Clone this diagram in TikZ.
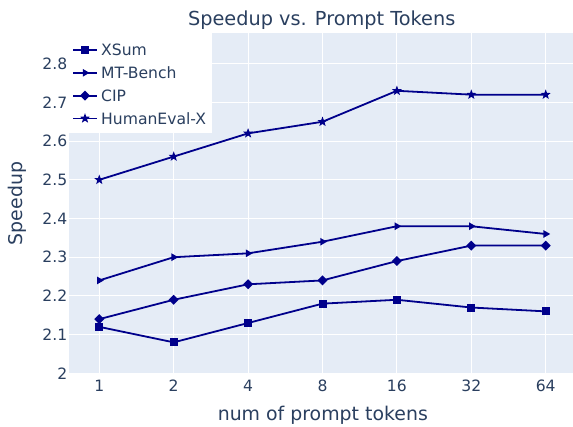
\documentclass[tikz,border=0pt]{standalone}
\usepackage{fontspec}
\setmainfont{DejaVu Sans}
\usetikzlibrary{shapes.geometric}
\definecolor{plotbg}{HTML}{E5ECF6}
\definecolor{txt}{HTML}{2A3F5F}
\definecolor{ser}{HTML}{00008B}
\begin{document}
\begin{tikzpicture}[x=1pt,y=-1pt,
  gridline/.style={white,line width=1pt},
  serline/.style={ser,line width=1.8pt,line join=round},
  mk/.style={fill=ser,draw=none,inner sep=0pt,outer sep=0pt},
  msq/.style={mk,rectangle,minimum width=8pt,minimum height=8pt},
  mdia/.style={mk,diamond,minimum width=10pt,minimum height=10pt},
  mtri/.style={mk,regular polygon,regular polygon sides=3,shape border rotate=-90,minimum size=9pt},
  mstar/.style={mk,star,star points=5,star point ratio=2.4,minimum size=10.5pt},
  ticklab/.style={text=txt,font=\fontsize{15.6}{18}\selectfont,inner sep=0pt},
  axlab/.style={text=txt,font=\fontsize{18.9}{22}\selectfont,inner sep=0pt},
  leglab/.style={text=txt,font=\fontsize{15.6}{18}\selectfont,inner sep=0pt,anchor=west}]
\useasboundingbox (0,0) rectangle (573,426);
\fill[white] (0,0) rectangle (573,426);
\fill[plotbg] (69,33) rectangle (573,373.3);
% grid
\foreach \i in {0,...,6} \draw[gridline] ({99.3+74.4*\i},33) -- ({99.3+74.4*\i},373.3);
\foreach \v in {1,...,8} \draw[gridline] (69,{373.3-38.7*\v}) -- (573,{373.3-38.7*\v});
% y tick labels
\node[ticklab,anchor=east] (yt0) at (67.5,373.3) {2};
\foreach \v in {1,...,8} \node[ticklab,anchor=east] (yt\v) at (67.5,{373.3-38.7*\v}) {2.\v};
% x tick labels
\foreach \t [count=\i from 0] in {1,2,4,8,16,32,64}
  \node[ticklab] (xt\i) at ({99.3+74.4*\i},386) {\t};
% titles
\node[text=txt,font=\fontsize{19.3}{23}\selectfont,inner sep=0pt,anchor=base] (title) at (321.7,25) {Speedup vs. Prompt Tokens};
\node[axlab,anchor=base] (xlab) at (322.8,420) {num of prompt tokens};
\node[axlab,anchor=base,rotate=90] (ylab) at (22.5,203.5) {Speedup};
% data coordinates
\foreach \v [count=\i from 0] in {2.12,2.08,2.13,2.18,2.19,2.17,2.16}
  \coordinate (xs\i) at ({99.3+74.4*\i},{373.3-387*(\v-2)});
\foreach \v [count=\i from 0] in {2.24,2.30,2.31,2.34,2.38,2.38,2.36}
  \coordinate (mt\i) at ({99.3+74.4*\i},{373.3-387*(\v-2)});
\foreach \v [count=\i from 0] in {2.14,2.19,2.23,2.24,2.29,2.33,2.33}
  \coordinate (ci\i) at ({99.3+74.4*\i},{373.3-387*(\v-2)});
\foreach \v [count=\i from 0] in {2.50,2.56,2.62,2.65,2.73,2.72,2.72}
  \coordinate (he\i) at ({99.3+74.4*\i},{373.3-387*(\v-2)});
% lines
\draw[serline] (xs0) \foreach \i in {1,...,6}{ -- (xs\i)};
\draw[serline] (mt0) \foreach \i in {1,...,6}{ -- (mt\i)};
\draw[serline] (ci0) \foreach \i in {1,...,6}{ -- (ci\i)};
\draw[serline] (he0) \foreach \i in {1,...,6}{ -- (he\i)};
% markers
\foreach \i in {0,...,6} {
  \node[msq] (mxs\i) at (xs\i) {};
  \node[mtri] (mmt\i) at (mt\i) {};
  \node[mdia] (mci\i) at (ci\i) {};
  \node[mstar] (mhe\i) at (he\i) {};
}
% legend
\fill[white] (69,33) rectangle (212,133);
\foreach \n/\y in {a/50,b/72.8,c/95.6,d/118.4} {
  \coordinate (l\n1) at (73.3,\y);
  \coordinate (l\n2) at (96.7,\y);
  \draw[serline] (l\n1) -- (l\n2);
}
\node[msq] (lma) at (85,50) {};
\node[mtri] (lmb) at (85,72.8) {};
\node[mdia] (lmc) at (85,95.6) {};
\node[mstar] (lmd) at (85,118.4) {};
\node[leglab] (lta) at (101,50) {XSum};
\node[leglab] (ltb) at (101,72.8) {MT-Bench};
\node[leglab] (ltc) at (101,95.6) {CIP};
\node[leglab] (ltd) at (101,118.4) {HumanEval-X};
\end{tikzpicture}
\end{document}
